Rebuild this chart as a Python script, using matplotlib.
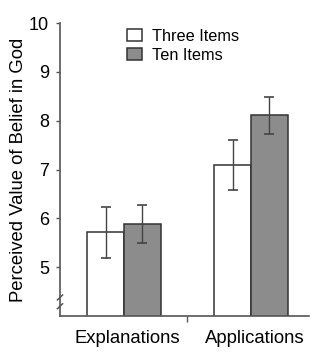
import matplotlib
matplotlib.use("Agg")
import matplotlib.pyplot as plt
import numpy as np

plt.rcParams['font.family'] = ['Liberation Sans', 'DejaVu Sans']

groups = ["Explanations", "Applications"]
series = ["Three Items", "Ten Items"]
three_means = [5.71, 7.10]
three_err = [0.52, 0.51]
ten_means = [5.89, 8.11]
ten_err = [0.39, 0.38]
yticks = [5, 6, 7, 8, 9, 10]

W, H = 325, 356
fig = plt.figure(figsize=(W / 100, H / 100), dpi=100)
ax = fig.add_axes([60 / W, (H - 316) / H, (309 - 60) / W, (316 - 23) / H])

x = np.arange(len(groups))
bw = 0.288
axis_col = "#555555"
edge_col = "#333333"

ax.bar(x - bw / 2, three_means, bw, color="white", edgecolor=edge_col,
       linewidth=1.1, label=series[0], zorder=2)
ax.bar(x + bw / 2, ten_means, bw, color="#8c8c8c", edgecolor=edge_col,
       linewidth=1.1, label=series[1], zorder=2)
ax.errorbar(x - bw / 2, three_means, yerr=three_err, fmt="none", ecolor="#444444",
            elinewidth=1.0, capsize=3.5, capthick=1.2, zorder=3)
ax.errorbar(x + bw / 2, ten_means, yerr=ten_err, fmt="none", ecolor="#444444",
            elinewidth=1.0, capsize=3.5, capthick=1.2, zorder=3)

x0 = -0.504
ax.set_ylim(4, 10)
ax.set_xlim(x0, 1.457)
ax.set_yticks(yticks)
ax.set_yticklabels([str(v) for v in yticks], fontsize=13)
ax.set_xticks([0.5])
ax.set_xticklabels([""])
ax.set_xticks(x + 0.03, minor=True)
ax.set_xticklabels(groups, minor=True, fontsize=13.3)
ax.tick_params(axis="x", which="minor", length=0, pad=10)
ax.tick_params(axis="x", which="major", length=4, color=axis_col, width=1)
ax.tick_params(axis="y", length=3, color=axis_col, width=1, pad=5)

for s in ["top", "right"]:
    ax.spines[s].set_visible(False)
for s in ["left", "bottom"]:
    ax.spines[s].set_color(axis_col)
    ax.spines[s].set_linewidth(1.2)

# axis break marks on the y axis
for yb in [4.38, 4.2]:
    ax.plot([x0 - 0.02, x0 + 0.02], [yb - 0.05, yb + 0.05], color=axis_col,
            lw=1.1, clip_on=False, zorder=4)

ax.set_ylabel("Perceived Value of Belief in God", fontsize=13.3, labelpad=1)

ax.legend(loc="upper left", bbox_to_anchor=(0.269, 0.98), frameon=False, fontsize=11.7,
          handlelength=0.92, handleheight=0.8, handletextpad=0.6, labelspacing=0.25,
          borderaxespad=0.0, borderpad=0.0)

fig.savefig("out.png", dpi=100)
